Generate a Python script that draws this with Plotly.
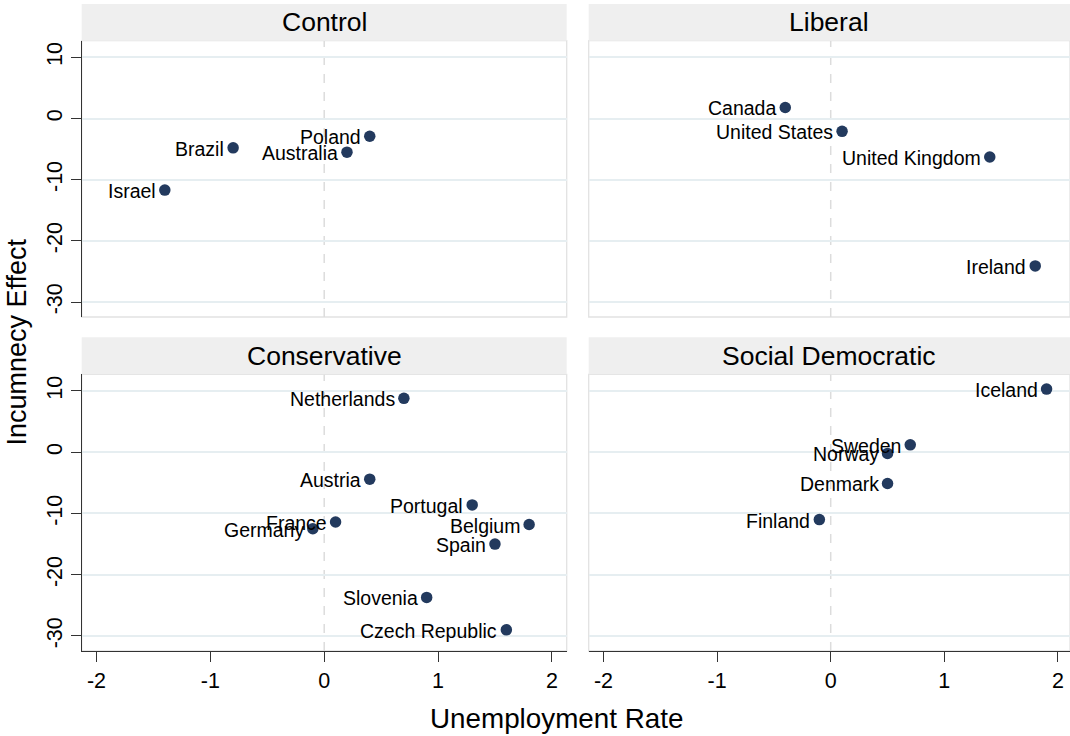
import plotly.graph_objects as go

# Regime panels and country data (unemployment rate, incumbency effect)
panels = ["Control", "Liberal", "Conservative", "Social Democratic"]

control_countries = ["Israel", "Brazil", "Poland", "Australia"]
control_unemp = [-1.4, -0.8, 0.4, 0.2]
control_effect = [-11.7, -4.8, -2.9, -5.5]

liberal_countries = ["Canada", "United States", "United Kingdom", "Ireland"]
liberal_unemp = [-0.4, 0.1, 1.4, 1.8]
liberal_effect = [1.8, -2.1, -6.3, -24.1]

conservative_countries = ["Netherlands", "Austria", "Portugal", "Belgium", "Spain",
                          "France", "Germany", "Slovenia", "Czech Republic"]
conservative_unemp = [0.7, 0.4, 1.3, 1.8, 1.5, 0.1, -0.1, 0.9, 1.6]
conservative_effect = [8.8, -4.4, -8.6, -11.8, -15.0, -11.4, -12.5, -23.7, -29.0]

socdem_countries = ["Iceland", "Sweden", "Norway", "Denmark", "Finland"]
socdem_unemp = [1.9, 0.7, 0.5, 0.5, -0.1]
socdem_effect = [10.3, 1.2, -0.2, -5.1, -11.0]

x_ticks = [-2, -1, 0, 1, 2]
x_tick_labels = ["-2", "-1", "0", "1", "2"]
y_ticks = [-30, -20, -10, 0, 10]
y_tick_labels = ["-30", "-20", "-10", "0", "10"]

W, H = 1070, 736
FONT = "Liberation Sans, Arial, Helvetica, sans-serif"
MARKER = "#233a5e"
GRID = "#e6eef1"
FRAME = "#e2e2e2"
AXIS = "#333333"
BAR = "#efefef"


def px_x(p):
    return p / W


def px_y(p):
    return 1 - p / H


# panel geometry (pixel boxes converted to paper fractions)
col_dom = [[px_x(81.7), px_x(566.7)], [px_x(588.7), 1.0]]
row_dom = [[px_y(317.0), px_y(40.7)], [px_y(651.0), px_y(374.3)]]
bar_dom = [[px_y(40.7), px_y(4.0)], [px_y(374.3), px_y(337.3)]]
x_ranges = [[-2.13, 2.13], [-2.13, 2.106]]
y_range = [-32.45, 12.72]

data = [
    (control_countries, control_unemp, control_effect),
    (liberal_countries, liberal_unemp, liberal_effect),
    (conservative_countries, conservative_unemp, conservative_effect),
    (socdem_countries, socdem_unemp, socdem_effect),
]

fig = go.Figure()
shapes = []
annotations = []

for i, (names, xs, ys) in enumerate(data):
    row, col = divmod(i, 2)
    suffix = "" if i == 0 else str(i + 1)
    xa, ya = "x" + suffix, "y" + suffix

    fig.add_trace(go.Scatter(
        x=xs, y=ys, mode="markers",
        marker=dict(size=11.5, color=MARKER, line=dict(width=0)),
        xaxis=xa, yaxis=ya, showlegend=False, hoverinfo="skip",
    ))
    # country labels to the left of each marker
    for name, xv, yv in zip(names, xs, ys):
        annotations.append(dict(
            text=name, x=xv, y=yv, xref=xa, yref=ya,
            xanchor="right", yanchor="middle", xshift=-7, yshift=-1,
            showarrow=False, font=dict(family=FONT, size=19.5, color="black"),
        ))

    bottom = row == 1
    left = col == 0
    fig.layout["xaxis" + suffix] = dict(
        domain=col_dom[col], range=x_ranges[col], anchor=ya,
        tickvals=x_ticks, ticktext=x_tick_labels, showticklabels=bottom,
        ticks="outside" if bottom else "", ticklen=10, tickwidth=1.3, tickcolor=AXIS,
        showline=bottom, linecolor=AXIS, linewidth=1.3,
        showgrid=False, zeroline=False,
        tickfont=dict(family=FONT, size=21.5, color="black"),
    )
    fig.layout["yaxis" + suffix] = dict(
        domain=row_dom[row], range=y_range, anchor=xa,
        tickvals=y_ticks, ticktext=y_tick_labels, showticklabels=left, tickangle=-90,
        ticks="outside" if left else "", ticklen=10, tickwidth=1.3, tickcolor=AXIS,
        showline=left, linecolor=AXIS, linewidth=1.3,
        showgrid=True, gridcolor=GRID, gridwidth=1.6, zeroline=False,
        tickfont=dict(family=FONT, size=21.5, color="black"),
    )

    # light frame around the plot region
    shapes.append(dict(type="rect", xref="paper", yref="paper", layer="below",
                       x0=col_dom[col][0], x1=col_dom[col][1],
                       y0=row_dom[row][0], y1=row_dom[row][1],
                       line=dict(color=FRAME, width=1.3), fillcolor="rgba(0,0,0,0)"))
    # dashed reference line at zero unemployment change
    shapes.append(dict(type="line", xref=xa, yref="paper", layer="below",
                       x0=0, x1=0, y0=row_dom[row][0], y1=row_dom[row][1],
                       line=dict(color="#dcdcdc", width=1.5, dash="dash")))
    # panel title strip
    shapes.append(dict(type="rect", xref="paper", yref="paper", layer="below",
                       x0=col_dom[col][0], x1=col_dom[col][1],
                       y0=bar_dom[row][0], y1=bar_dom[row][1],
                       line=dict(width=0), fillcolor=BAR))
    annotations.append(dict(text=panels[i], xref="paper", yref="paper",
                            x=(col_dom[col][0] + col_dom[col][1]) / 2,
                            y=(bar_dom[row][0] + bar_dom[row][1]) / 2,
                            xanchor="center", yanchor="middle", showarrow=False,
                            font=dict(family=FONT, size=26.5, color="black")))

annotations.append(dict(text="Unemployment Rate", xref="paper", yref="paper",
                        x=px_x(556.5), y=px_y(718), xanchor="center", yanchor="middle",
                        showarrow=False, font=dict(family=FONT, size=27.8, color="black")))
annotations.append(dict(text="Incumnecy Effect", xref="paper", yref="paper",
                        x=px_x(16), y=px_y(342.5), xanchor="center", yanchor="middle",
                        textangle=-90, showarrow=False,
                        font=dict(family=FONT, size=27, color="black")))

fig.update_layout(
    width=W, height=H,
    margin=dict(l=0, r=0, t=0, b=0),
    paper_bgcolor="white", plot_bgcolor="white",
    shapes=shapes, annotations=annotations,
    font=dict(family=FONT),
)

fig.write_html("out.html")
